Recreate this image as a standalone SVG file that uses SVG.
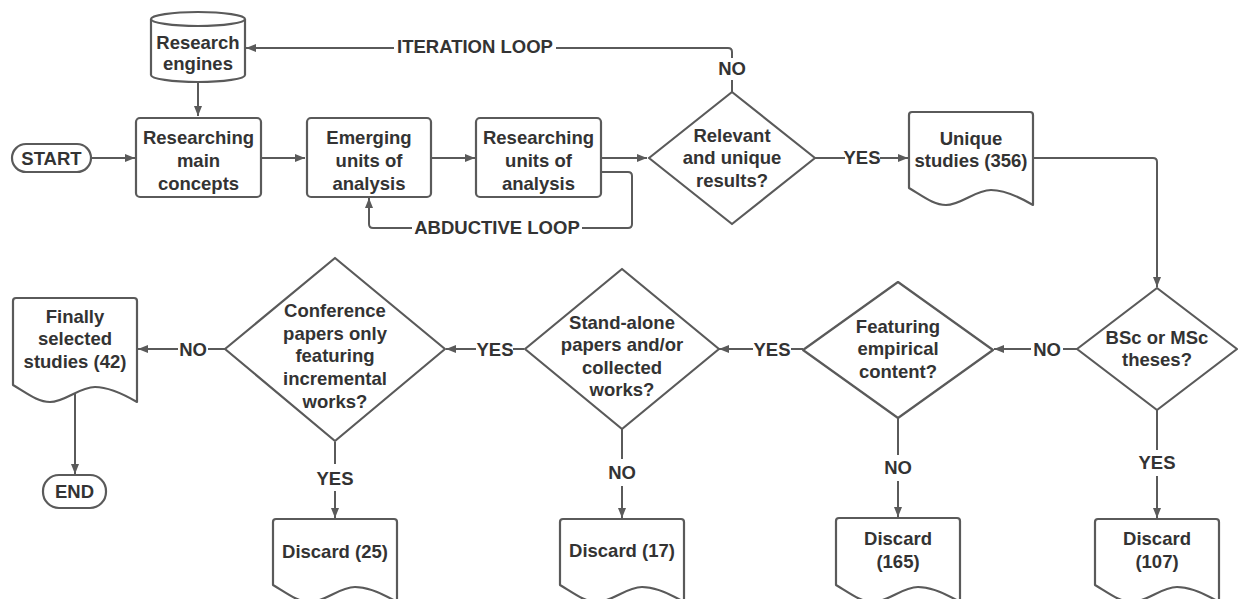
<svg xmlns="http://www.w3.org/2000/svg" width="1243" height="599" viewBox="0 0 1243 599">
<defs>
<marker id="ah" markerUnits="userSpaceOnUse" markerWidth="11" markerHeight="9" refX="10" refY="4.5" orient="auto">
<path d="M0,0.5 L10,4.5 L0,8.5 z" fill="#5a5a5a"/>
</marker>
<style>
.s{fill:#fff;stroke:#5a5a5a;stroke-width:2.2;stroke-linejoin:round}
.c{fill:none;stroke:#5a5a5a;stroke-width:2}
.a{fill:none;stroke:#5a5a5a;stroke-width:2;marker-end:url(#ah)}
text{font-family:"Liberation Sans",Arial,sans-serif;font-weight:bold;font-size:18.5px;fill:#333;text-anchor:middle}
</style>
</defs>
<rect width="1243" height="599" fill="#fff"/>
<g id="connectors">
<path class="a" d="M198,83 V116"/>
<path class="a" d="M91,158 H135"/>
<path class="a" d="M261,158 H305"/>
<path class="a" d="M431,158 H475"/>
<path class="a" d="M601,158 H647"/>
<path class="c" d="M732,92 V80"/>
<path class="c" d="M732,58 V52 Q732,48 728,48 H556"/>
<path class="a" d="M394,48 H246"/>
<path class="c" d="M601,172 H628 Q632,172 632,176 V224 Q632,228 628,228 H582"/>
<path class="a" d="M412,228 H373 Q369,228 369,224 V198"/>
<path class="c" d="M815,158 H845"/>
<path class="a" d="M880,158 H908"/>
<path class="a" d="M1033,158 H1153 Q1157,158 1157,162 V287"/>
<path class="c" d="M1077,349 H1063"/>
<path class="a" d="M1031,349 H994"/>
<path class="c" d="M803,349 H791"/>
<path class="a" d="M753,349 H719"/>
<path class="c" d="M524,349 H513"/>
<path class="a" d="M476,349 H446"/>
<path class="c" d="M225,349 H208"/>
<path class="a" d="M178,349 H138"/>
<path class="a" d="M75,393 V474"/>
<path class="c" d="M1157,410 V450"/>
<path class="a" d="M1157,476 V518"/>
<path class="c" d="M898,418 V455"/>
<path class="a" d="M898,481 V517"/>
<path class="c" d="M622,429 V459"/>
<path class="a" d="M622,486 V518"/>
<path class="c" d="M335,442 V464"/>
<path class="a" d="M335,491 V518"/>
<text x="732" y="75">NO</text>
<text x="475" y="53">ITERATION LOOP</text>
<text x="497" y="234">ABDUCTIVE LOOP</text>
<text x="862" y="164">YES</text>
<text x="1047" y="356">NO</text>
<text x="772" y="356">YES</text>
<text x="495" y="356">YES</text>
<text x="193" y="356">NO</text>
<text x="1157" y="469">YES</text>
<text x="898" y="474">NO</text>
<text x="622" y="479">NO</text>
<text x="335" y="485">YES</text>
</g>
<g id="start">
<rect class="s" x="12" y="144" width="79" height="28" rx="14"/>
<text x="51.5" y="164.5">START</text>
</g>
<g id="research-engines">
<path class="s" d="M151,19 V75 A47,7 0 0 0 245,75 V19 A47,7 0 0 0 151,19 Z"/>
<path class="s" d="M151,19 A47,7 0 0 0 245,19"/>
<text x="198" y="48.5">Research</text>
<text x="198" y="69.5">engines</text>
</g>
<g id="researching-main">
<rect class="s" x="136" y="118" width="125" height="79" rx="4"/>
<text x="198.5" y="143.5">Researching</text>
<text x="198.5" y="166.5">main</text>
<text x="198.5" y="189.5">concepts</text>
</g>
<g id="emerging-units">
<rect class="s" x="307" y="118" width="124" height="79" rx="4"/>
<text x="369" y="143.5">Emerging</text>
<text x="369" y="166.5">units of</text>
<text x="369" y="189.5">analysis</text>
</g>
<g id="researching-units">
<rect class="s" x="476" y="118" width="125" height="79" rx="4"/>
<text x="538.5" y="143.5">Researching</text>
<text x="538.5" y="166.5">units of</text>
<text x="538.5" y="189.5">analysis</text>
</g>
<g id="relevant">
<path class="s" d="M732,92 L815,158 L732,224 L649,158 Z"/>
<text x="732" y="141.5">Relevant</text>
<text x="732" y="163.5">and unique</text>
<text x="732" y="186.5">results?</text>
</g>
<g id="unique-studies">
<path class="s" d="M909,188 V115 Q909,112 912,112 H1030 Q1033,112 1033,115 V205 C1021,198 1006,190 991,190 C975,190 961,205 946,205 C934,205 924,197 909,188 Z"/>
<text x="971" y="144.5">Unique</text>
<text x="971" y="166.5">studies (356)</text>
</g>
<g id="bsc-msc">
<path class="s" d="M1157,288 L1237,349 L1157,410 L1077,349 Z"/>
<text x="1157" y="343.5">BSc or MSc</text>
<text x="1157" y="365.5">theses?</text>
</g>
<g id="featuring-empirical">
<path class="s" d="M898,282 L993,350 L898,418 L803,350 Z"/>
<text x="898" y="332.5">Featuring</text>
<text x="898" y="354.5">empirical</text>
<text x="898" y="377.5">content?</text>
</g>
<g id="stand-alone">
<path class="s" d="M622,269 L719,349 L622,429 L525,349 Z"/>
<text x="622" y="328.5">Stand-alone</text>
<text x="622" y="350.5">papers and/or</text>
<text x="622" y="373.5">collected</text>
<text x="622" y="395.5">works?</text>
</g>
<g id="conference">
<path class="s" d="M335,258 L445,349 L335,441 L225,349 Z"/>
<text x="335" y="316.5">Conference</text>
<text x="335" y="339.5">papers only</text>
<text x="335" y="361.5">featuring</text>
<text x="335" y="384.5">incremental</text>
<text x="335" y="407.5">works?</text>
</g>
<g id="finally-selected">
<path class="s" d="M13,385 V301 Q13,298 16,298 H134 Q137,298 137,301 V402 C125,395 110,387 95,387 C79,387 65,402 50,402 C38,402 28,394 13,385 Z"/>
<text x="75" y="322.5">Finally</text>
<text x="75" y="344.5">selected</text>
<text x="75" y="367.5">studies (42)</text>
</g>
<g id="end">
<rect class="s" x="43" y="475" width="63" height="33" rx="16"/>
<text x="74.5" y="497.5">END</text>
</g>
<g id="discard-25">
<path class="s" d="M273,585 V522 Q273,519 276,519 H394 Q397,519 397,522 V602 C385,595 370,587 355,587 C339,587 325,602 310,602 C298,602 288,594 273,585 Z"/>
<text x="335" y="557.5">Discard (25)</text>
</g>
<g id="discard-17">
<path class="s" d="M560,585 V522 Q560,519 563,519 H681 Q684,519 684,522 V602 C672,595 657,587 642,587 C626,587 612,602 597,602 C585,602 575,594 560,585 Z"/>
<text x="622" y="556.5">Discard (17)</text>
</g>
<g id="discard-165">
<path class="s" d="M836,585 V521 Q836,518 839,518 H957 Q960,518 960,521 V602 C948,595 933,587 918,587 C902,587 888,602 873,602 C861,602 851,594 836,585 Z"/>
<text x="898" y="544.5">Discard</text>
<text x="898" y="567.5">(165)</text>
</g>
<g id="discard-107">
<path class="s" d="M1095,585 V522 Q1095,519 1098,519 H1216 Q1219,519 1219,522 V602 C1207,595 1192,587 1177,587 C1161,587 1147,602 1132,602 C1120,602 1110,594 1095,585 Z"/>
<text x="1157" y="544.5">Discard</text>
<text x="1157" y="567.5">(107)</text>
</g>
</svg>
